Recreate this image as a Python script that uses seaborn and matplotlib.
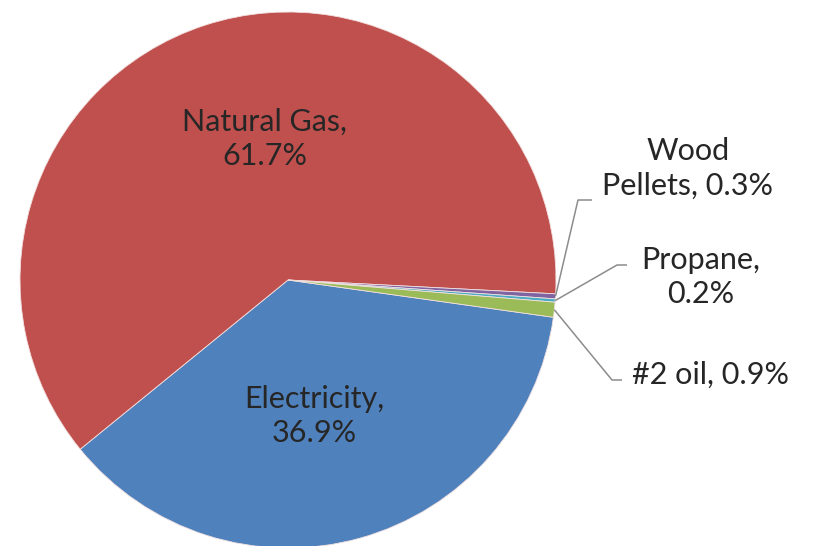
import numpy as np
import matplotlib
matplotlib.use("Agg")
import matplotlib.pyplot as plt
import seaborn as sns

# data, clockwise starting at the right edge of the pie
fuels = ["Electricity", "Natural Gas", "Wood\nPellets", "Propane", "#2 oil"]
shares = [36.9, 61.7, 0.3, 0.2, 0.9]
colors = ["#4F81BD", "#C0504D", "#8064A2", "#4BACC6", "#9BBB59"]

sns.set_style("white")
plt.rcParams["font.family"] = ["Lato", "DejaVu Sans"]

fig = plt.figure(figsize=(8.14, 5.46), dpi=100)
ax = fig.add_axes([0, 0, 1, 1])
cx, cy, r = 288, 546 - 280, 268

wedges, _ = ax.pie(shares, colors=colors, startangle=-8, counterclock=False,
                   center=(cx, cy), radius=r,
                   wedgeprops=dict(edgecolor="#f2e0e0", linewidth=0.6))
ax.set_xlim(0, 814)
ax.set_ylim(0, 546)
ax.set_aspect("equal")
ax.axis("off")

txt = dict(fontsize=22, color="#262626", ha="center", va="center", linespacing=1.3)

# big slices: labels inside
ax.text(265, 546 - 139, "Natural Gas,\n61.7%", **txt)
ax.text(314, 546 - 416, "Electricity,\n36.9%", **txt)

# small slices: labels outside with leader lines
small = [
    (2, "Wood\nPellets, 0.3%", (688, 168), (578, 200), (592, 200)),
    (3, "Propane,\n0.2%", (701, 277), (617, 265), (627, 265)),
    (4, "#2 oil, 0.9%", (711, 375), (612, 380), (622, 380)),
]
for i, s, tpos, elbow, end in small:
    w = wedges[i]
    th = np.deg2rad((w.theta1 + w.theta2) / 2)
    x0, y0 = cx + r * np.cos(th), cy + r * np.sin(th)
    ax.plot([x0, elbow[0], end[0]], [y0, 546 - elbow[1], 546 - end[1]],
            color="#8c8c8c", lw=1.1, solid_capstyle="butt")
    ax.text(tpos[0], 546 - tpos[1], s, **txt)

fig.savefig("out.png", dpi=100, facecolor="white")
